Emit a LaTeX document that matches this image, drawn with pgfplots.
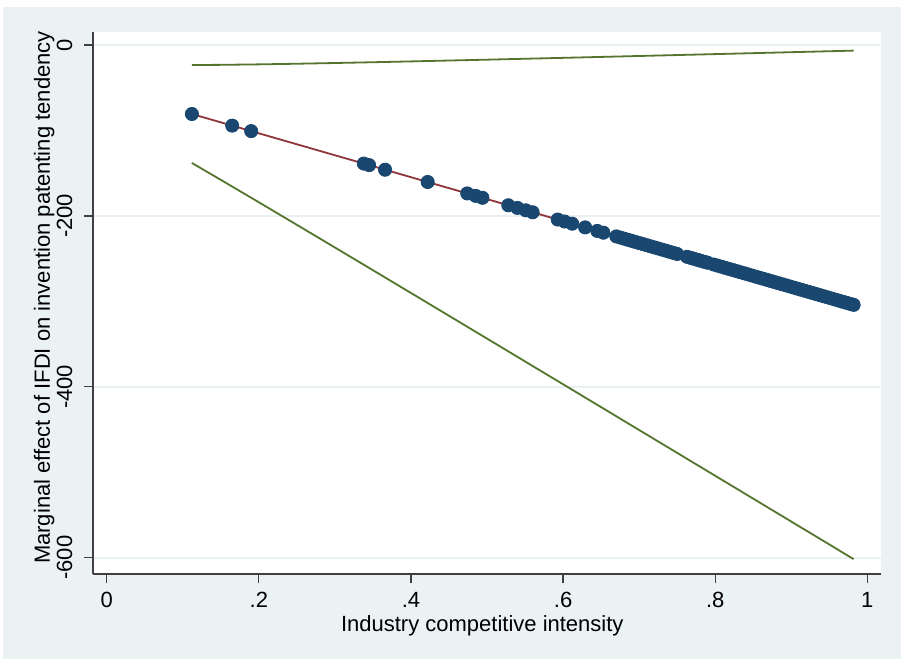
\documentclass[border=0pt]{standalone}
\usepackage{fontspec}
\setmainfont{Liberation Sans}
\usepackage{pgfplots}
\pgfplotsset{compat=1.18}
\definecolor{bg}{RGB}{234,242,243}
\definecolor{gridc}{RGB}{232,240,242}
\definecolor{stnavy}{RGB}{26,71,111}
\definecolor{stmaroon}{RGB}{144,53,59}
\definecolor{stgreen}{RGB}{85,117,47}
\begin{document}
\begin{tikzpicture}
\fill[white] (0,0) rectangle (450.5pt,329.5pt);
\fill[bg] (1.5pt,0) rectangle (450.5pt,326pt);
\begin{axis}[
  at={(46.5pt,42.5pt)}, anchor=south west,
  scale only axis, width=394pt, height=271pt,
  xmin=-0.018, xmax=1.018, ymin=-619, ymax=15.2,
  axis lines*=left,
  axis line style={black!75, line width=0.6pt},
  axis background/.style={fill=white},
  tick align=outside, major tick length=4.5pt,
  tick style={black!75, line width=0.6pt},
  xtick={0,0.2,0.4,0.6,0.8,1},
  xticklabels={0,.2,.4,.6,.8,1},
  ytick={-600,-400,-200,0},
  yticklabels={-600,-400,-200,0},
  ymajorgrids, grid style={gridc, line width=0.8pt},
  xticklabel style={anchor=base, yshift=-12.5pt, font=\fontsize{11}{13}\selectfont},
  yticklabel style={xshift=-6pt, rotate=90, anchor=base, font=\fontsize{11}{13}\selectfont},
  xlabel={Industry competitive intensity},
  ylabel={Marginal effect of IFDI on invention patenting tendency},
  xlabel style={at={(axis description cs:0.494,0)}, anchor=base, yshift=-29pt, font=\fontsize{11}{13}\selectfont},
  ylabel style={at={(axis description cs:-0.0546,0.51)}, rotate=0, anchor=base, font=\fontsize{11}{13}\selectfont},
  clip=false,
]
% confidence bounds
\addplot[stgreen, line width=0.9pt, no marks] coordinates {
(0.112,-23.45) (0.15,-23.23) (0.2,-22.67) (0.25,-21.94) (0.3,-21.09) (0.35,-20.18) (0.4,-19.21) (0.5,-17.17) (0.6,-15.05) (0.7,-12.87) (0.8,-10.67) (0.9,-8.43) (0.982,-6.59)
};
\addplot[stgreen, line width=0.9pt, no marks] coordinates {
(0.112,-138.05) (0.15,-157.79) (0.2,-184.01) (0.25,-210.42) (0.3,-236.93) (0.35,-263.52) (0.4,-290.15) (0.5,-343.53) (0.6,-396.99) (0.7,-450.51) (0.8,-504.05) (0.9,-557.63) (0.982,-601.57)
};
% scatter
\addplot[only marks, mark=*, mark size=3.3pt, stnavy, mark options={draw=stnavy, fill=stnavy}] coordinates {
(0.112,-80.75) (0.165,-94.36) (0.190,-100.77) (0.338,-138.76) (0.345,-140.56) (0.366,-145.95) (0.422,-160.33)
(0.474,-173.68) (0.485,-176.50) (0.494,-178.81) (0.528,-187.54) (0.540,-190.62) (0.551,-193.44) (0.560,-195.75)
(0.593,-204.22) (0.602,-206.53) (0.612,-209.10) (0.629,-213.46) (0.645,-217.57) (0.653,-219.63)
(0.670,-223.99) (0.675,-225.27) (0.680,-226.56) (0.685,-227.84) (0.690,-229.12) (0.695,-230.41) (0.700,-231.69)
(0.705,-232.97) (0.710,-234.26) (0.715,-235.54) (0.720,-236.82) (0.725,-238.11) (0.730,-239.39) (0.735,-240.67)
(0.740,-241.96) (0.745,-243.24) (0.750,-244.53)
(0.763,-247.86) (0.768,-249.15) (0.772,-250.17) (0.777,-251.46) (0.781,-252.49) (0.786,-253.77) (0.790,-254.79)
(0.798,-256.85) (0.803,-258.13) (0.808,-259.41) (0.813,-260.70) (0.818,-261.98) (0.823,-263.26) (0.828,-264.55)
(0.833,-265.83) (0.838,-267.11) (0.843,-268.40) (0.848,-269.68) (0.853,-270.97) (0.858,-272.25) (0.863,-273.53)
(0.868,-274.82) (0.873,-276.10) (0.878,-277.38) (0.883,-278.67) (0.888,-279.95) (0.893,-281.23) (0.898,-282.52)
(0.903,-283.80) (0.908,-285.08) (0.913,-286.37) (0.918,-287.65) (0.923,-288.93) (0.928,-290.22) (0.933,-291.50)
(0.938,-292.79) (0.943,-294.07) (0.948,-295.35) (0.953,-296.64) (0.958,-297.92) (0.963,-299.20) (0.968,-300.49)
(0.973,-301.77) (0.978,-303.05) (0.982,-304.08)
};
% fitted marginal effect
\addplot[stmaroon, line width=0.9pt, no marks] coordinates {(0.112,-80.75) (0.982,-304.08)};
\end{axis}
\end{tikzpicture}
\end{document}
